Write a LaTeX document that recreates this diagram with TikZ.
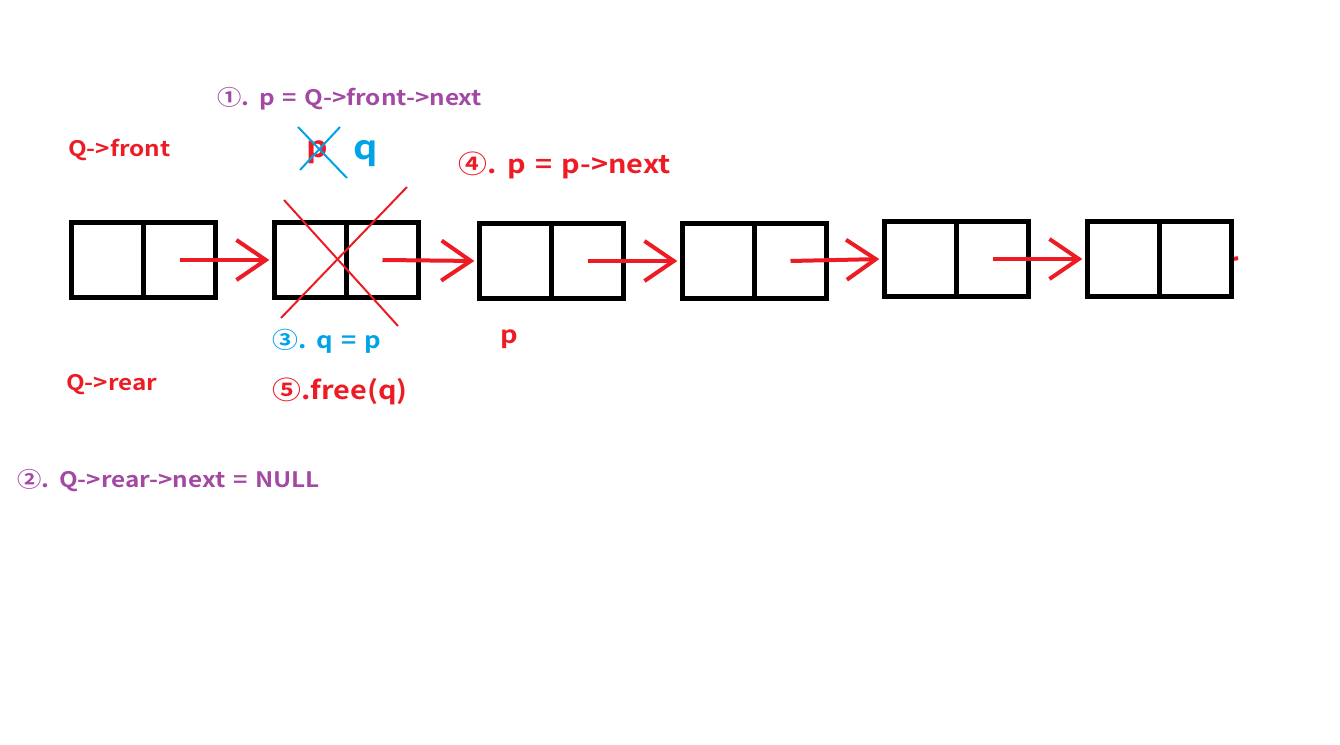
\documentclass[tikz,border=0pt]{standalone}
\usepackage{fontspec}
\setmainfont{Noto Sans CJK SC}[BoldFont={* Bold}, FakeStretch=1.14, WordSpace=1.4]
\usetikzlibrary{arrows.meta}
\definecolor{cred}{HTML}{ED1C24}
\definecolor{cpurple}{HTML}{A349A4}
\definecolor{cblue}{HTML}{00A2E8}
\tikzset{
  cell/.style={draw=black, line width=3.75pt, minimum width=54pt, minimum height=56.25pt, inner sep=0pt},
  link/.style={draw=cred, line width=3pt, -{Straight Barb[length=22pt,width=30pt,line width=3pt]}, shorten >=2pt},
  cross/.style={line width=1.5pt},
  lbl/.style={anchor=west, inner sep=0pt, font=\bfseries},
}
\begin{document}
\begin{tikzpicture}[x=0.75pt,y=-0.75pt]
\useasboundingbox (0,0) rectangle (1340,745);
% boxes
\foreach \i/\x/\y in {1/71.5/260, 2/274.5/260, 3/479.5/261, 4/682.5/261, 5/884.5/259, 6/1087.5/259}{
  \node[cell] (b\i l) at (\x+36,\y) {};
  \node[cell] (b\i r) at (\x+108,\y) {};
}
% links
\draw[link] (b1r.center) -- (b2l.west);
\draw[link] (b2r.center) -- (b3l.west);
\draw[link] (b3r.center) -- (b4l.west);
\draw[link] (b4r.center) -- (b5l.west);
\draw[link] (b5r.center) -- (b6l.west);
\coordinate (stub) at (1238,258);
\draw[cred, line width=3pt] (b6r.east) -- (stub);
% red cross over node 2
\coordinate (x1a) at (284,200); \coordinate (x1b) at (398,326);
\coordinate (x2a) at (407,187); \coordinate (x2b) at (281,318);
\draw[cred, cross] (x1a) -- (x1b);
\draw[cred, cross] (x2a) -- (x2b);
% texts
\node[lbl, text=cpurple, font=\bfseries\fontsize{16}{18}\selectfont] (t1) at (217,99) {①. p = Q->front->next};
\node[lbl, text=cred, font=\bfseries\fontsize{16}{18}\selectfont] (qf) at (68,150) {Q->front};
\node[lbl, text=cred, font=\bfseries\fontsize{22}{24}\selectfont] (pold) at (306,152) {p};
\node[lbl, text=cblue, font=\bfseries\fontsize{25}{27}\selectfont] (qnew) at (353,154) {q};
\coordinate (y1a) at (298,127); \coordinate (y1b) at (347,178);
\coordinate (y2a) at (340,127); \coordinate (y2b) at (300,170);
\draw[cblue, cross] (y1a) -- (y1b);
\draw[cblue, cross] (y2a) -- (y2b);
\node[lbl, text=cred, font=\bfseries\fontsize{19}{21}\selectfont] (t4) at (458,165) {④. p = p->next};
\node[lbl, text=cblue, font=\bfseries\fontsize{17}{19}\selectfont] (t3) at (272,341) {③. q = p};
\node[lbl, text=cred, font=\bfseries\fontsize{18}{20}\selectfont] (pnew) at (500,339) {p};
\node[lbl, text=cred, font=\bfseries\fontsize{16}{18}\selectfont] (qr) at (66,385) {Q->rear};
\node[lbl, text=cred, font=\bfseries\fontsize{19}{21}\selectfont] (t5) at (272,391) {⑤.free(q)};
\node[lbl, text=cpurple, font=\bfseries\fontsize{16}{18}\selectfont] (t2) at (17,481) {②. Q->rear->next = NULL};
\end{tikzpicture}
\end{document}
